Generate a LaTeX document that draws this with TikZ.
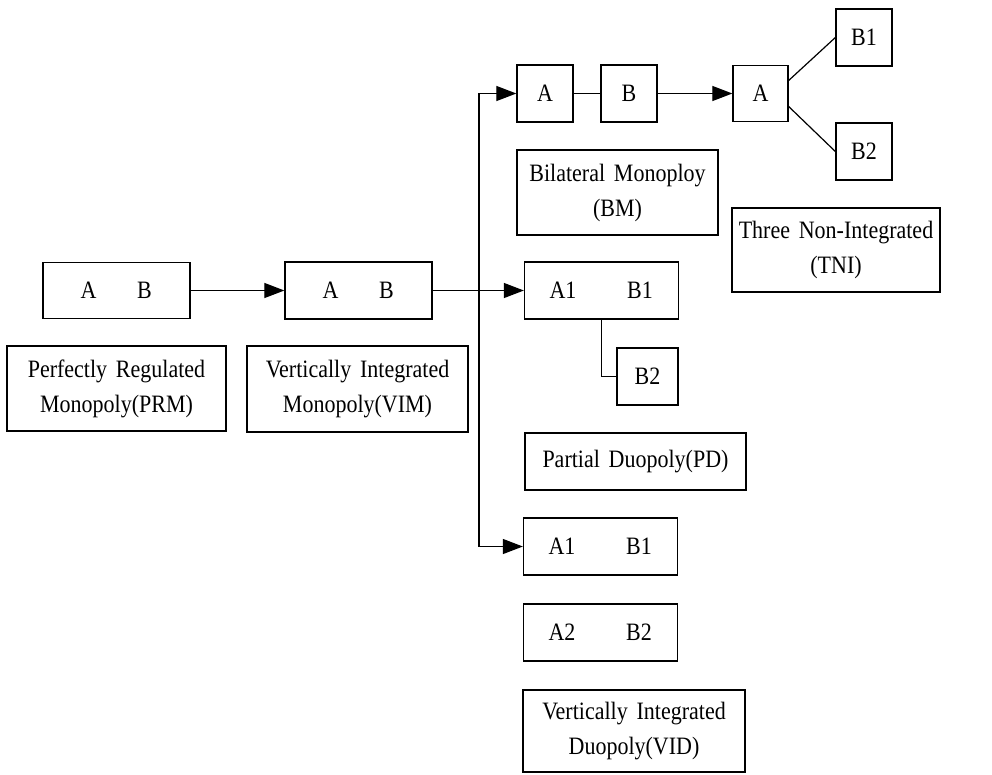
\documentclass[tikz,border=0pt]{standalone}
\usepackage{fontspec}
\setmainfont{Liberation Serif}[FakeStretch=0.88, WordSpace=1.6]
\usetikzlibrary{arrows.meta,calc}
\begin{document}
\begin{tikzpicture}[x=1pt,y=-1pt,
  box/.style={draw, line width=1.3pt, inner sep=0pt, align=center,
    font=\fontsize{25}{35}\selectfont},
  conn/.style={line width=1.2pt},
  arr/.style={conn, -{Triangle[length=20pt,width=15pt]}}]
\useasboundingbox (0,0) rectangle (992,774);
% left part
\node[box, minimum width=147pt, minimum height=56pt] (prmab) at (116.5,290.5)
  {\makebox[56pt]{A}\makebox[56pt]{B}};
\node[box, minimum width=147pt, minimum height=57pt] (vimab) at (358.5,290.5)
  {\makebox[56pt]{A}\makebox[56pt]{B}};
\node[box, minimum width=219pt, minimum height=85pt] (prml) at (116.5,388.5)
  {Perfectly Regulated\\Monopoly(PRM)};
\node[box, minimum width=221pt, minimum height=86pt] (viml) at (357.5,389)
  {Vertically Integrated\\Monopoly(VIM)};
% bilateral monopoly
\node[box, minimum width=56pt, minimum height=57pt] (bmA) at (545,93.5) {A};
\node[box, minimum width=56pt, minimum height=57pt] (bmB) at (629,93.5) {B};
\node[box, minimum width=201pt, minimum height=85pt] (bml) at (617.5,192.5)
  {Bilateral Monoploy\\(BM)};
% three non-integrated
\node[box, minimum width=55pt, minimum height=56pt] (tA) at (760.5,93.5) {A};
\node[box, minimum width=56pt, minimum height=57pt] (tB1) at (864,37.5) {B1};
\node[box, minimum width=56pt, minimum height=57pt] (tB2) at (864,151.5) {B2};
\node[box, minimum width=208pt, minimum height=84pt] (tnil) at (836,250)
  {Three Non-Integrated\\(TNI)};
% partial duopoly
\node[box, minimum width=153pt, minimum height=57pt] (pdab) at (601.5,290.5)
  {\makebox[77pt]{A1}\makebox[77pt]{B1}};
\node[box, minimum width=61pt, minimum height=57pt] (pdb2) at (647.5,376.5) {B2};
\node[box, minimum width=221pt, minimum height=57pt] (pdl) at (635.5,461.5)
  {Partial Duopoly(PD)};
% vertically integrated duopoly
\node[box, minimum width=153pt, minimum height=57pt] (vid1) at (600.5,546.5)
  {\makebox[77pt]{A1}\makebox[77pt]{B1}};
\node[box, minimum width=153pt, minimum height=57pt] (vid2) at (600.5,632.5)
  {\makebox[77pt]{A2}\makebox[77pt]{B2}};
\node[box, minimum width=222pt, minimum height=82pt] (vidl) at (634,731)
  {Vertically Integrated\\Duopoly(VID)};
% connectors
\coordinate (sp) at (479,290.5);
\draw[arr] (prmab) -- (vimab);
\draw[arr] (vimab) -- (pdab);
\draw[arr] (sp) |- (bmA.west);
\draw[arr] (sp) |- (vid1.west);
\draw[conn] (bmA) -- (bmB);
\draw[arr] (bmB) -- (tA);
\draw[conn] ($(tA.east)+(0,-13)$) -- (tB1.west);
\draw[conn] ($(tA.east)+(0,13)$) -- (tB2.west);
\draw[conn] (pdab.south) |- (pdb2.west);
\end{tikzpicture}
\end{document}
